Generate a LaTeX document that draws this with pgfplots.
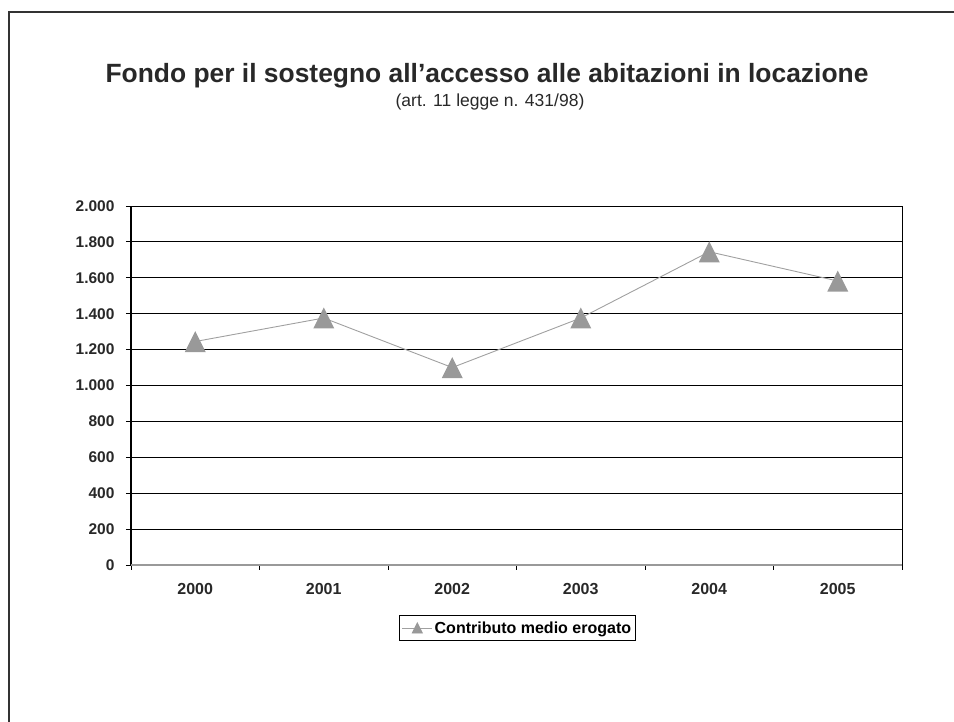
\documentclass[border=0pt]{standalone}
\usepackage{fontspec}
\setmainfont{Liberation Sans}
\usepackage{pgfplots}
\pgfplotsset{compat=1.18}
\definecolor{mk}{RGB}{153,153,153}
\definecolor{ln}{RGB}{160,160,160}
\definecolor{txt}{RGB}{40,40,40}
\pgfdeclareplotmark{xltri}{%
  \pgfpathmoveto{\pgfqpoint{0pt}{\pgfplotmarksize}}%
  \pgfpathlineto{\pgfqpoint{-\pgfplotmarksize}{-\pgfplotmarksize}}%
  \pgfpathlineto{\pgfqpoint{\pgfplotmarksize}{-\pgfplotmarksize}}%
  \pgfpathclose\pgfusepathqfill}
\begin{document}
\begin{tikzpicture}[x=1pt,y=1pt]
\useasboundingbox (0,0) rectangle (954,722);
\draw[line width=1.3pt, color=black!80] (9,-5) -- (9,710) -- (960,710);
\node[anchor=base, font=\bfseries\fontsize{26.4}{30}\selectfont, text=txt, inner sep=0pt] at (487,639) {Fondo per il sostegno all’accesso alle abitazioni in locazione};
\node[anchor=base, font=\fontsize{17.5}{20}\selectfont, text=txt, inner sep=0pt] at (490,615) {(art. 11 legge n. 431/98)};
\begin{axis}[
  at={(131pt,157pt)}, anchor=south west,
  width=771pt, height=359pt, scale only axis,
  xmin=-0.5, xmax=5.5, ymin=0, ymax=2000,
  xtick={-0.5,0.5,...,5.5},
  xticklabels={2000,2001,2002,2003,2004,2005},
  x tick label as interval,
  ytick={0,200,...,2000},
  tick align=outside, tick pos=left,
  major tick length=5pt,
  tick style={black, line width=0.8pt},
  ymajorgrids, major grid style={black, line width=0.8pt},
  axis line style={black, line width=0.8pt},
  /pgf/number format/assume math mode=true,
  /pgf/number format/.cd, fixed, 1000 sep={.}, /pgfplots/.cd,
  ticklabel style={text=txt},
  xticklabel style={yshift=-10pt, font=\bfseries\fontsize{16}{18}\selectfont},
  yticklabel style={xshift=-8pt, font=\bfseries\fontsize{15.5}{17}\selectfont},
  clip=false,
  legend style={at={(0.5013,-0.1755)}, anchor=center, draw=black, line width=0.8pt,
    font=\bfseries\fontsize{16}{18}\selectfont, inner xsep=2pt, inner ysep=4pt},
  legend image code/.code={
    \draw[ln, line width=0.8pt] (-5pt,0pt) -- (25pt,0pt);
    \fill[mk] (10pt,5pt) -- (5pt,-5pt) -- (15pt,-5pt) -- cycle;},
]
\addplot[color=ln, line width=0.9pt, mark=xltri, mark size=10.5pt, mark options={fill=mk}]
  coordinates {(0,1245) (1,1376) (2,1100) (3,1376) (4,1745) (5,1582)};
\addlegendentry{Contributo medio erogato}
\draw[line width=2pt, black] (rel axis cs:0,0) -- (rel axis cs:0,1);
\draw[line width=1.8pt, mk] (rel axis cs:0,0) -- (rel axis cs:1,0);
\end{axis}
\end{tikzpicture}
\end{document}
